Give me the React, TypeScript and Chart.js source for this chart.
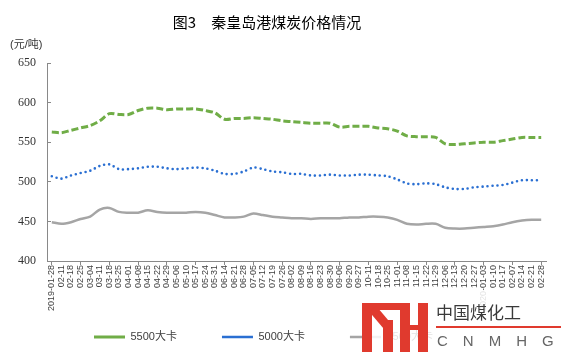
import React, { useEffect, useRef } from 'react';
import { Chart, registerables } from 'chart.js';

Chart.register(...registerables);

const categories = [
  '2019-01-28', '02-11', '02-18', '02-25', '03-04', '03-11', '03-18', '03-25', '04-01', '04-08',
  '04-15', '04-22', '04-29', '05-06', '05-10', '05-17', '05-24', '05-31', '06-14', '06-21',
  '06-28', '07-05', '07-12', '07-19', '07-26', '08-02', '08-09', '08-16', '08-23', '08-30',
  '09-06', '09-20', '09-27', '10-11', '10-18', '10-25', '11-01', '11-08', '11-15', '11-22',
  '11-29', '12-06', '12-13', '12-20', '12-27', '2020-01-03', '01-10', '01-17', '02-07', '02-14',
  '02-21', '02-28',
];

const price5500 = [
  563, 562, 565, 568, 571, 577, 586, 585, 585, 590,
  593, 593, 591, 592, 592, 592, 590, 587, 579, 580,
  580, 581, 580, 579, 577, 576, 575, 574, 574, 574,
  569, 570, 570, 570, 568, 567, 564, 558, 557, 557,
  556, 548, 547, 548, 549, 550, 550, 552, 554, 556,
  556, 556,
];

const price5000 = [
  507, 504, 508, 511, 514, 520, 522, 516, 516, 517,
  519, 519, 517, 516, 517, 518, 517, 514, 510, 510,
  513, 518, 516, 513, 512, 510, 510, 508, 508, 509,
  508, 508, 509, 509, 508, 507, 503, 498, 497, 498,
  497, 493, 491, 491, 493, 494, 495, 496, 499, 502,
  502, 502,
];

const price4500 = [
  449, 447, 449, 453, 456, 465, 467, 462, 461, 461,
  464, 462, 461, 461, 461, 462, 461, 458, 455, 455,
  456, 460, 458, 456, 455, 454, 454, 453, 454, 454,
  454, 455, 455, 456, 456, 455, 452, 447, 446, 447,
  447, 442, 441, 441, 442, 443, 444, 446, 449, 451,
  452, 452,
];

const seriesNames = ['5500大卡', '5000大卡', '4500大卡'];
const yTicks = { min: 400, max: 650, step: 50 };
const titleText = '图3　秦皇岛港煤炭价格情况';
const unitText = '(元/吨)';

const SANS = '"Liberation Sans", "Noto Sans CJK SC", sans-serif';
const CJK = '"Noto Sans CJK SC", "Liberation Sans", sans-serif';
const SERIF = '"Liberation Serif", "Noto Sans CJK SC", serif';
const AXIS = '#898989';

export default function App() {
  const ref = useRef<HTMLCanvasElement | null>(null);

  useEffect(() => {
    if (!ref.current) return;

    const tweak = {
      id: 'tweak',
      afterLayout(chart: any) {
        if (chart.titleBlock) chart.titleBlock.left = -12;
        if (chart.legend) chart.legend.left = 49;
        const xs = chart.scales && chart.scales.x;
        if (xs) xs._computeLabelArea = () => undefined;
      },
      afterDraw(chart: any) {
        const ctx = chart.ctx;
        ctx.save();
        ctx.font = `11px ${SANS}`;
        ctx.fillStyle = '#333';
        ctx.textBaseline = 'middle';
        ctx.textAlign = 'left';
        ctx.fillText(unitText, 10, 45);
        ctx.restore();
      },
    };

    const chart = new Chart(ref.current, {
      type: 'line',
      data: {
        labels: categories,
        datasets: [
          {
            label: seriesNames[0],
            data: price5500,
            borderColor: '#70AD47',
            backgroundColor: '#70AD47',
            borderWidth: 3,
            borderDash: [7, 3],
            pointRadius: 0,
            tension: 0.3,
            fill: false,
          },
          {
            label: seriesNames[1],
            data: price5000,
            borderColor: '#2A6FD2',
            backgroundColor: '#2A6FD2',
            borderWidth: 2.6,
            borderDash: [0, 5],
            borderCapStyle: 'round',
            pointRadius: 0,
            tension: 0.3,
            fill: false,
          },
          {
            label: seriesNames[2],
            data: price4500,
            borderColor: '#A5A5A5',
            backgroundColor: '#A5A5A5',
            borderWidth: 2.5,
            pointRadius: 0,
            tension: 0.3,
            fill: false,
          },
        ],
      },
      options: {
        animation: false,
        responsive: false,
        devicePixelRatio: 1,
        layout: { padding: { top: 0, right: 15, bottom: 4.5, left: 0 } },
        plugins: {
          title: {
            display: true,
            text: titleText,
            color: '#000',
            font: { family: CJK, size: 15, weight: 'normal', lineHeight: 1.2 },
            padding: { top: 13, bottom: 32 },
          },
          legend: {
            position: 'bottom',
            align: 'start',
            labels: {
              usePointStyle: true,
              pointStyle: 'line',
              pointStyleWidth: 31,
              boxHeight: 11,
              padding: 45,
              color: '#404040',
              font: { family: SANS, size: 11 },
            },
          },
          tooltip: { enabled: false },
        },
        scales: {
          x: {
            type: 'category',
            offset: true,
            grid: {
              display: true,
              drawOnChartArea: false,
              drawTicks: true,
              tickLength: 4,
              color: 'transparent',
              tickColor: (c: any) => (c.index % 3 === 0 ? AXIS : 'transparent'),
            },
            border: { display: true, color: AXIS, width: 1 },
            ticks: {
              autoSkip: false,
              maxRotation: 90,
              minRotation: 90,
              padding: 0,
              color: '#404040',
              font: { family: SANS, size: 9 },
            },
            afterFit: (s: any) => {
              s.height = 25.5;
            },
          },
          y: {
            min: yTicks.min,
            max: yTicks.max,
            ticks: {
              stepSize: yTicks.step,
              padding: 15,
              color: '#333',
              font: { family: SERIF, size: 12 },
            },
            grid: {
              display: true,
              drawOnChartArea: false,
              drawTicks: true,
              tickLength: -4,
              color: 'transparent',
              tickColor: AXIS,
            },
            border: { display: true, color: AXIS, width: 1 },
            afterFit: (s: any) => {
              s.width = 47;
            },
          },
        },
      },
      plugins: [tweak],
    } as any);

    return () => chart.destroy();
  }, []);

  const red = '#E03A2E';
  const bar = (left: number, top: number, width: number, height: number, extra: any = {}) => (
    <div style={{ position: 'absolute', left, top, width, height, background: red, ...extra }} />
  );

  return (
    <div style={{ position: 'fixed', left: 0, top: 0, width: 561, height: 357, background: '#fff' }}>
      <canvas ref={ref} width={561} height={357} style={{ width: 561, height: 357, display: 'block' }} />
      <div style={{ position: 'absolute', left: 362, top: 290, width: 199, height: 67, background: 'rgba(255,255,255,0.85)' }} />
      {bar(362, 303, 10, 49)}
      {bar(362, 303, 38, 7)}
      {bar(383, 320, 10, 32)}
      {bar(376, 306, 9, 24, { transform: 'rotate(-40deg)', transformOrigin: 'center' })}
      {bar(400, 303, 10, 49)}
      {bar(418, 303, 10, 49)}
      {bar(410, 325, 8, 5)}
      <div style={{ position: 'absolute', left: 436, top: 301, fontFamily: CJK, fontSize: 17, color: '#3a3a3a', lineHeight: '22px', whiteSpace: 'nowrap' }}>中国煤化工</div>
      <div style={{ position: 'absolute', left: 436, top: 326, width: 125, height: 2, background: red }} />
      <div style={{ position: 'absolute', left: 437, top: 332, fontFamily: SANS, fontSize: 15, color: '#666', letterSpacing: 15, lineHeight: '18px', whiteSpace: 'nowrap' }}>CNMHG</div>
    </div>
  );
}
